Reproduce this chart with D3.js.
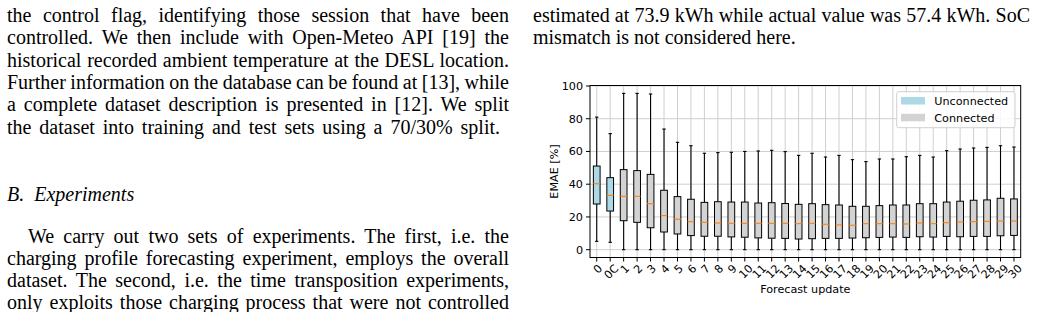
<!DOCTYPE html>
<html>
<head>
<meta charset="utf-8">
<script src="https://cdn.jsdelivr.net/npm/d3@7"></script>
<style>
    body { margin: 0; background: #fff; }
    svg { display: block; }
    .para { font-family: "Liberation Serif", "Times New Roman", serif; font-size: 20px; fill: #000; }
    .mpl { font-family: "DejaVu Sans", sans-serif; font-size: 11.2px; fill: #000; }
</style>
</head>
<body>
<div id="page"></div>
<script>
// ---- data ----
const updates = ["0", "0C", "1", "2", "3", "4", "5", "6", "7", "8", "9", "10", "11", "12", "13", "14",
    "15", "16", "17", "18", "19", "20", "21", "22", "23", "24", "25", "26", "27", "28", "29", "30"];
const groups = ["Unconnected", "Unconnected"].concat(d3.range(30).map(() => "Connected"));
const whiskerHigh = [81.0, 70.9, 95.5, 95.5, 95.1, 73.7, 65.6, 63.5, 58.9, 59.3, 59.5, 60.0, 60.3, 60.7, 59.9, 57.6,
    58.9, 56.6, 57.6, 55.0, 53.8, 55.4, 55.4, 56.8, 57.6, 56.6, 60.5, 61.5, 62.1, 62.5, 63.5, 62.7];
const q3 = [51.1, 44.0, 48.9, 48.3, 46.0, 36.3, 32.4, 30.8, 28.9, 29.3, 29.1, 29.1, 28.5, 28.7, 28.2, 27.7,
    28.1, 27.5, 27.3, 26.5, 26.5, 26.9, 27.3, 27.3, 28.1, 28.1, 29.1, 29.6, 30.2, 30.4, 31.4, 31.0];
const medians = [40.3, 33.2, 32.6, 32.6, 28.1, 20.8, 18.6, 17.1, 16.7, 16.3, 16.1, 16.1, 16.1, 16.1, 16.1, 15.9,
    16.1, 15.5, 15.1, 14.9, 15.9, 15.9, 15.9, 15.7, 16.3, 15.9, 16.5, 16.9, 17.1, 17.3, 17.5, 17.5];
const q1 = [27.9, 23.6, 17.7, 16.7, 13.4, 10.8, 9.6, 8.6, 8.2, 8.2, 7.8, 7.6, 7.2, 7.0, 6.9, 6.5,
    6.7, 6.9, 6.9, 7.1, 7.3, 7.5, 7.7, 7.5, 7.9, 7.7, 8.1, 7.9, 8.1, 8.1, 8.5, 8.7];
const whiskerLow = [5.1, 4.5].concat(d3.range(30).map(() => 0));
const yTicks = [0, 20, 40, 60, 80, 100];
const legendItems = ["Unconnected", "Connected"];

// surrounding paper text
const leftPara1 = [
    "the control flag, identifying those session that have been",
    "controlled. We then include with Open-Meteo API [19] the",
    "historical recorded ambient temperature at the DESL location.",
    "Further information on the database can be found at [13], while",
    "a complete dataset description is presented in [12]. We split",
    "the dataset into training and test sets using a 70/30% split."
];
const heading = "B.\u2002Experiments";
const leftPara2 = [
    "We carry out two sets of experiments. The first, i.e. the",
    "charging profile forecasting experiment, employs the overall",
    "dataset. The second, i.e. the time transposition experiments,",
    "only exploits those charging process that were not controlled"
];
const rightPara = [
    "estimated at 73.9 kWh while actual value was 57.4 kWh. SoC",
    "mismatch is not considered here."
];

const colors = { Unconnected: "#add8e6", Connected: "#d3d3d3" };

class BoxChart {
    constructor(parentElement) {
        this.parentElement = parentElement;
        this.initVis();
    }

    initVis() {
        let vis = this;
        vis.svg = d3.select(vis.parentElement).append("svg")
            .attr("width", 1041)
            .attr("height", 312);

        vis.drawText();

        vis.left = 590; vis.right = 1020.7;
        vis.top = 85.5; vis.bottom = 257.5;

        vis.data = updates.map((u, i) => ({
            label: u, group: groups[i],
            hi: whiskerHigh[i], q3: q3[i], med: medians[i], q1: q1[i], lo: whiskerLow[i]
        }));

        vis.x = d3.scalePoint()
            .domain(updates)
            .range([vis.left, vis.right])
            .padding(0.5);
        vis.step = vis.x.step();

        vis.y = d3.scaleLinear()
            .domain([-4.78, 100.3])
            .range([vis.bottom, vis.top]);

        let g = vis.svg.append("g");

        // grid
        g.selectAll(".vgrid").data(updates).enter().append("line")
            .attr("x1", d => vis.x(d)).attr("x2", d => vis.x(d))
            .attr("y1", vis.top).attr("y2", vis.bottom)
            .attr("stroke", "#cfcfcf").attr("stroke-width", 1);
        g.selectAll(".hgrid").data(yTicks).enter().append("line")
            .attr("x1", vis.left).attr("x2", vis.right)
            .attr("y1", d => vis.y(d)).attr("y2", d => vis.y(d))
            .attr("stroke", "#cfcfcf").attr("stroke-width", 1);

        let bw = vis.step * 0.5, cw = vis.step * 0.25;

        let boxes = g.selectAll(".box").data(vis.data).enter().append("g")
            .attr("transform", d => `translate(${vis.x(d.label)},0)`);

        // whiskers
        boxes.append("line")
            .attr("y1", d => vis.y(d.q3)).attr("y2", d => vis.y(d.hi))
            .attr("stroke", "#000").attr("stroke-width", 1.1);
        boxes.append("line")
            .attr("y1", d => vis.y(d.q1)).attr("y2", d => vis.y(d.lo))
            .attr("stroke", "#000").attr("stroke-width", 1.1);
        // caps
        boxes.append("line")
            .attr("x1", -cw / 2).attr("x2", cw / 2)
            .attr("y1", d => vis.y(d.hi)).attr("y2", d => vis.y(d.hi))
            .attr("stroke", "#000").attr("stroke-width", 1.1);
        boxes.append("line")
            .attr("x1", -cw / 2).attr("x2", cw / 2)
            .attr("y1", d => vis.y(d.lo)).attr("y2", d => vis.y(d.lo))
            .attr("stroke", "#000").attr("stroke-width", 1.1);
        // box
        boxes.append("rect")
            .attr("x", -bw / 2).attr("width", bw)
            .attr("y", d => vis.y(d.q3))
            .attr("height", d => vis.y(d.q1) - vis.y(d.q3))
            .attr("fill", d => colors[d.group])
            .attr("stroke", "#000").attr("stroke-width", 1);
        // median
        boxes.append("line")
            .attr("x1", -bw / 2).attr("x2", bw / 2)
            .attr("y1", d => vis.y(d.med)).attr("y2", d => vis.y(d.med))
            .attr("stroke", "#ff7f0e").attr("stroke-width", 1.1);

        // frame
        g.append("rect")
            .attr("x", vis.left).attr("y", vis.top)
            .attr("width", vis.right - vis.left).attr("height", vis.bottom - vis.top)
            .attr("fill", "none").attr("stroke", "#000").attr("stroke-width", 1);

        // y axis
        let yAxis = g.append("g").attr("class", "mpl");
        yAxis.selectAll(".ytick").data(yTicks).enter().append("line")
            .attr("x1", vis.left - 4).attr("x2", vis.left)
            .attr("y1", d => vis.y(d)).attr("y2", d => vis.y(d))
            .attr("stroke", "#000");
        yAxis.selectAll(".ylab").data(yTicks).enter().append("text")
            .attr("x", vis.left - 7)
            .attr("y", d => vis.y(d))
            .attr("dy", "0.36em")
            .attr("text-anchor", "end")
            .text(d => d);

        // x axis
        let xAxis = g.append("g").attr("class", "mpl");
        xAxis.selectAll(".xtick").data(updates).enter().append("line")
            .attr("x1", d => vis.x(d)).attr("x2", d => vis.x(d))
            .attr("y1", vis.bottom).attr("y2", vis.bottom + 4)
            .attr("stroke", "#000");
        xAxis.selectAll(".xlab").data(updates).enter().append("text")
            .attr("text-anchor", "middle")
            .attr("dy", "0.35em")
            .text(d => d)
            .each(function(d) {
                const w = this.getComputedTextLength();
                const cy = vis.bottom + 6 + w / (2 * Math.SQRT2) + 3;
                d3.select(this).attr("transform", `translate(${vis.x(d) + 1},${cy}) rotate(-45)`);
            });

        // axis titles
        g.append("text").attr("class", "mpl")
            .attr("x", (vis.left + vis.right) / 2)
            .attr("y", 293.3)
            .attr("text-anchor", "middle")
            .text("Forecast update");
        g.append("text").attr("class", "mpl")
            .attr("transform", `translate(557.5,${(vis.top + vis.bottom) / 2}) rotate(-90)`)
            .attr("text-anchor", "middle")
            .text("EMAE [%]");

        // legend
        let legend = g.append("g").attr("class", "mpl");
        legend.append("rect")
            .attr("x", 896.7).attr("y", 91.7)
            .attr("width", 118.3).attr("height", 36)
            .attr("rx", 2)
            .attr("fill", "#fff").attr("fill-opacity", 0.85)
            .attr("stroke", "#d0d0d0").attr("stroke-width", 1);
        let items = legend.selectAll(".item").data(legendItems).enter().append("g")
            .attr("transform", (d, i) => `translate(901,${97 + i * 16.8})`);
        items.append("rect")
            .attr("width", 24).attr("height", 7.5)
            .attr("fill", d => colors[d]);
        items.append("text")
            .attr("x", 33.3).attr("y", 3.75)
            .attr("dy", "0.36em")
            .text(d => d);
    }

    drawText() {
        let vis = this;
        const lead = 22.3;

        // justify a block of lines between x0 and x1; lastEnd sets where the last line stops (null = natural)
        const block = (lines, x0, x1, y0, indent, lastEnd) => {
            vis.svg.selectAll(null).data(lines).enter().append("text")
                .attr("class", "para")
                .attr("x", (d, i) => i === 0 ? x0 + indent : x0)
                .attr("y", (d, i) => y0 + i * lead)
                .text(d => d)
                .each(function(d, i) {
                    let end = x1;
                    if (i === lines.length - 1) {
                        if (lastEnd === null) return;
                        end = lastEnd;
                    }
                    const start = i === 0 ? x0 + indent : x0;
                    const natural = this.getComputedTextLength();
                    const spaces = (d.match(/ /g) || []).length;
                    if (spaces > 0) d3.select(this).attr("word-spacing", (end - start - natural) / spaces);
                });
        };

        block(leftPara1, 7, 509, 22, 0, 500);
        vis.svg.append("text")
            .attr("class", "para")
            .attr("x", 7).attr("y", 201)
            .style("font-style", "italic")
            .text(heading);
        block(leftPara2, 7, 509, 242.5, 21, 509);
        block(rightPara, 533, 1030, 22, 0, null);
    }
}

new BoxChart("#page");
</script>
</body>
</html>
